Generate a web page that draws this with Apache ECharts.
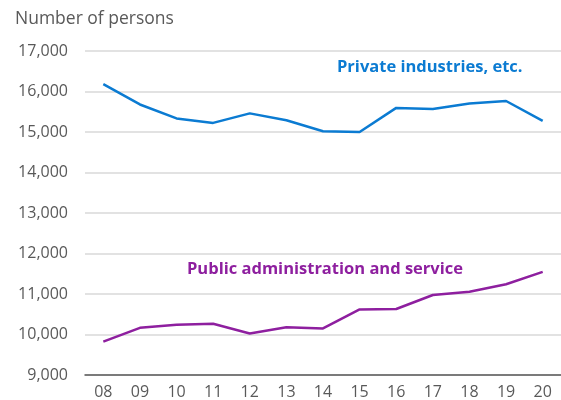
<!DOCTYPE html>
<html>
<head>
<meta charset="utf-8">
<script src="https://cdn.jsdelivr.net/npm/echarts@6/dist/echarts.min.js"></script>
<style>
  html, body { margin: 0; padding: 0; background: #fff; }
  #chart { width: 561px; height: 400px; }
</style>
</head>
<body>
<div id="chart"></div>
<script>
// Employment by sector, number of persons
const years = ['08', '09', '10', '11', '12', '13', '14', '15', '16', '17', '18', '19', '20'];
const privateIndustries = [16180, 15680, 15335, 15225, 15460, 15290, 15020, 15000, 15595, 15570, 15705, 15765, 15275];
const publicAdministration = [9825, 10165, 10240, 10265, 10025, 10180, 10150, 10620, 10630, 10975, 11055, 11240, 11545];
const yTicks = { min: 9000, max: 17000, interval: 1000 };

const BLUE = '#0b7bd2';
const PURPLE = '#8e1f9f';
const FONT = '"Open Sans", sans-serif';

const chart = echarts.init(document.getElementById('chart'), null, { renderer: 'canvas' });
chart.setOption({
  animation: false,
  grid: { left: 85, right: -9, top: 51, bottom: 25 },
  xAxis: {
    type: 'category',
    data: years,
    boundaryGap: true,
    axisLine: { lineStyle: { color: '#595959', width: 1.5 } },
    axisTick: { inside: true, length: 5, lineStyle: { color: '#595959', width: 1.5 } },
    axisLabel: { color: '#595959', fontSize: 16, fontFamily: FONT, margin: 9 }
  },
  yAxis: {
    type: 'value',
    min: yTicks.min,
    max: yTicks.max,
    interval: yTicks.interval,
    axisLine: { show: false },
    axisTick: { show: false },
    splitLine: { lineStyle: { color: '#d9d9d9', width: 1.5 } },
    axisLabel: {
      color: '#595959', fontSize: 16, fontFamily: FONT, margin: 17,
      formatter: v => v.toLocaleString('en-US')
    }
  },
  graphic: [
    { type: 'text', left: 15, top: 10,
      style: { text: 'Number of persons', fill: '#595959', fontSize: 17.5, fontFamily: FONT } },
    { type: 'text', left: 337, top: 59,
      style: { text: 'Private industries, etc.', fill: BLUE, fontSize: 16.5, fontWeight: 'bold', fontFamily: FONT } },
    { type: 'text', left: 187, top: 261,
      style: { text: 'Public administration and service', fill: PURPLE, fontSize: 16.5, fontWeight: 'bold', fontFamily: FONT } }
  ],
  series: [
    { name: 'Private industries, etc.', type: 'line', data: privateIndustries,
      symbol: 'none', lineStyle: { color: BLUE, width: 2.5 } },
    { name: 'Public administration and service', type: 'line', data: publicAdministration,
      symbol: 'none', lineStyle: { color: PURPLE, width: 2.5 } }
  ]
});
</script>
</body>
</html>
